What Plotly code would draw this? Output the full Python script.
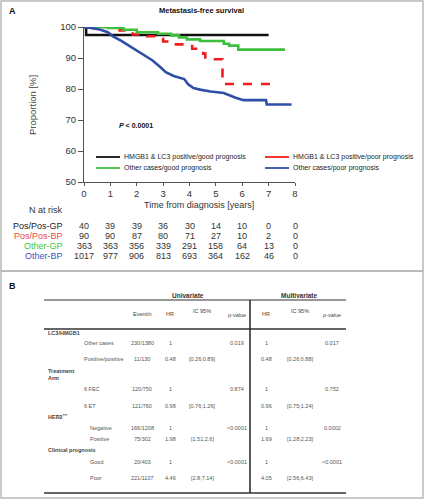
import plotly.graph_objects as go

# ---------------- Data ----------------
group_names = [
    "HMGB1 & LC3 positive/good prognosis",
    "HMGB1 & LC3 positive/poor prognosis",
    "Other cases/good prognosis",
    "Other cases/poor prognosis",
]
group_colors = ["#111111", "#f21d1d", "#3dbf3d", "#2f4ea8"]

black_t = [0, 0.08, 7.0]
black_s = [100, 97.4, 97.4]

red_t = [0, 1.35, 1.85, 2.4, 3.0, 3.22, 4.1, 4.52, 4.6, 5.25, 7.3]
red_s = [100, 98.9, 97.6, 97.0, 95.3, 94.4, 93.0, 91.4, 89.6, 81.6, 81.6]

green_t = [0, 0.9, 1.5, 2.0, 2.8, 3.3, 3.6, 3.9, 4.4, 5.3, 5.5, 5.85, 7.62]
green_s = [100, 99.7, 99.1, 98.3, 97.8, 97.3, 96.6, 96.0, 95.5, 94.6, 94.0, 92.7, 92.7]

blue_t = [0, 0.3, 0.6, 0.9, 1.1, 1.4, 1.7, 2.0, 2.3, 2.6, 2.9, 3.1, 3.4, 3.8, 3.95,
          4.15, 4.4, 4.8, 5.3, 5.55, 5.75, 6.05, 6.9, 6.93, 7.87]
blue_s = [100, 99.7, 99.2, 98.3, 97.0, 95.6, 94.0, 92.6, 91.0, 89.2, 87.0, 85.4, 84.2, 83.2, 81.5,
          80.3, 79.8, 79.2, 78.7, 77.8, 77.2, 76.4, 76.4, 75.0, 75.0]

risk_times = [0, 1, 2, 3, 4, 5, 6, 7, 8]
risk_labels = ["Pos/Pos-GP", "Pos/Pos-BP", "Other-GP", "Other-BP"]
risk_label_colors = ["#222222", "#f04848", "#3ec83e", "#3f52c0"]
risk_pos_gp = [40, 39, 39, 36, 30, 14, 10, 0, 0]
risk_pos_bp = [90, 90, 87, 80, 71, 27, 10, 2, 0]
risk_other_gp = [363, 363, 356, 339, 291, 158, 64, 13, 0]
risk_other_bp = [1017, 977, 906, 813, 693, 364, 162, 46, 0]

# Table (panel B)
tbl_groups = ["LC3/HMGB1", "Treatment<br>Arm", "HER2<sup>***</sup>", "Clinical prognosis"]
tbl_rows = ["Other cases", "Positive/positive", "6 FEC", "6 ET", "Negative", "Positive", "Good", "Poor"]
tbl_events = ["230/1380", "11/130", "120/750", "121/760", "166/1208", "75/302", "20/403", "221/1107"]
tbl_uni_hr = ["1", "0.48", "1", "0.98", "1", "1.98", "1", "4.46"]
tbl_uni_ci = ["", "[0.26;0.89]", "", "[0.76;1.26]", "", "[1.51;2.6]", "", "[2.8;7.14]"]
tbl_uni_p = ["0.019", "", "0.874", "", "<0.0001", "", "<0.0001", ""]
tbl_multi_hr = ["1", "0.48", "1", "0.96", "1", "1.69", "1", "4.05"]
tbl_multi_ci = ["", "[0.26;0.88]", "", "[0.75;1.24]", "", "[1.28;2.23]", "", "[2.56;6.43]"]
tbl_multi_p = ["0.017", "", "0.752", "", "0.0002", "", "<0.0001", ""]
tbl_headers = ["Event/n", "HR", "IC 95%", "p-value", "HR", "IC 95%", "p-value"]

# ---------------- Layout geometry (pixels) ----------------
W, H = 425, 500
L, R, T, B = 84, 295, 27, 182
FONT = "Liberation Sans, Arial, sans-serif"


def px_x(px):
    return (px - L) / (R - L)


def px_y(py):
    return (B - py) / (B - T)


fig = go.Figure()

series = [(black_t, black_s, "hv", "solid"),
          (red_t, red_s, "hv", "dash"),
          (green_t, green_s, "hv", "solid"),
          (blue_t, blue_s, "linear", "solid")]
for (t, s, shape, dash), name, col in zip(series, group_names, group_colors):
    fig.add_trace(go.Scatter(x=t, y=s, mode="lines", name=name, showlegend=False,
                             hoverinfo="skip",
                             line=dict(color=col, width=2.6, shape=shape, dash=dash)))

annotations = []
shapes = []

# Panel borders
shapes.append(dict(type="rect", xref="paper", yref="paper", x0=px_x(1), x1=px_x(423),
                   y0=px_y(271), y1=px_y(1), line=dict(color="#b8b8b8", width=1.5)))
shapes.append(dict(type="rect", xref="paper", yref="paper", x0=px_x(1), x1=px_x(423),
                   y0=px_y(498), y1=px_y(271), line=dict(color="#b8b8b8", width=1.5)))

# Panel A texts
annotations.append(dict(text="<b>A</b>", x=px_x(7), y=px_y(11), xref="paper", yref="paper",
                        xanchor="left", yanchor="middle", showarrow=False,
                        font=dict(size=9, color="#111", family=FONT)))
annotations.append(dict(text="<b>Metastasis-free survival</b>", x=px_x(201), y=px_y(11),
                        xref="paper", yref="paper", xanchor="center", yanchor="middle",
                        showarrow=False, font=dict(size=7.5, color="#111", family=FONT)))
annotations.append(dict(text="Proportion [%]", x=px_x(33), y=px_y(105), xref="paper", yref="paper",
                        textangle=-90, xanchor="center", yanchor="middle", showarrow=False,
                        font=dict(size=9.5, color="#444", family=FONT)))
annotations.append(dict(text="Time from diagnosis [years]", x=px_x(199), y=px_y(205),
                        xref="paper", yref="paper", xanchor="center", yanchor="middle",
                        showarrow=False, font=dict(size=9, color="#333", family=FONT)))
annotations.append(dict(text="<b><i>P</i> < 0.0001</b>", x=px_x(117), y=px_y(125),
                        xref="paper", yref="paper", xanchor="left", yanchor="middle",
                        showarrow=False, font=dict(size=7, color="#111", family=FONT)))

# Manual legend
leg_pos = [(96, 157), (265, 157), (96, 168), (265, 168)]
for (lx, ly), name, col in zip(leg_pos, group_names, group_colors):
    shapes.append(dict(type="line", xref="paper", yref="paper", x0=px_x(lx), x1=px_x(lx + 24),
                       y0=px_y(ly), y1=px_y(ly), line=dict(color=col, width=1.8)))
    annotations.append(dict(text=name, x=px_x(lx + 26), y=px_y(ly), xref="paper", yref="paper",
                            xanchor="left", yanchor="middle", showarrow=False,
                            font=dict(size=7.0, color="#222", family=FONT)))

# N at risk
annotations.append(dict(text="N at risk", x=px_x(27), y=px_y(210), xref="paper", yref="paper",
                        xanchor="left", yanchor="middle", showarrow=False,
                        font=dict(size=9, color="#333", family=FONT)))
risk_rows = [risk_pos_gp, risk_pos_bp, risk_other_gp, risk_other_bp]
risk_y = [226, 236, 246, 256]
for lab, col, vals, ry in zip(risk_labels, risk_label_colors, risk_rows, risk_y):
    annotations.append(dict(text=lab, x=px_x(65), y=px_y(ry), xref="paper", yref="paper",
                            xanchor="right", yanchor="middle", showarrow=False,
                            font=dict(size=9, color=col, family=FONT)))
    for t, v in zip(risk_times, vals):
        annotations.append(dict(text=str(v), x=t, y=px_y(ry), xref="x", yref="paper",
                                xanchor="center", yanchor="middle", showarrow=False,
                                font=dict(size=9, color="#333", family=FONT)))

# ---------------- Panel B table ----------------
annotations.append(dict(text="<b>B</b>", x=px_x(7), y=px_y(286), xref="paper", yref="paper",
                        xanchor="left", yanchor="middle", showarrow=False,
                        font=dict(size=9, color="#111", family=FONT)))
for txt, cx in [("Univariate", 188), ("Multivariate", 299)]:
    annotations.append(dict(text="<b>" + txt + "</b>", x=px_x(cx), y=px_y(295), xref="paper",
                            yref="paper", xanchor="center", yanchor="middle", showarrow=False,
                            font=dict(size=6.5, color="#333", family=FONT)))

tl, tr = 44, 346
for ly, wdt in [(300, 1.2), (329, 1.5), (493, 1.5)]:
    shapes.append(dict(type="line", xref="paper", yref="paper", x0=px_x(tl), x1=px_x(tr),
                       y0=px_y(ly), y1=px_y(ly), line=dict(color="#333", width=wdt)))
shapes.append(dict(type="line", xref="paper", yref="paper", x0=px_x(250), x1=px_x(250),
                   y0=px_y(300), y1=px_y(493), line=dict(color="#222", width=1.5)))

col_x = [142, 170, 202, 237, 266, 300, 332]
head_y = [314, 314, 311, 315, 314, 311, 315]
TF = 5.5
TC = "#555"
for txt, cx, hy in zip(tbl_headers, col_x, head_y):
    annotations.append(dict(text=txt, x=px_x(cx), y=px_y(hy), xref="paper", yref="paper",
                            xanchor="center", yanchor="middle", showarrow=False,
                            font=dict(size=TF, color="#444", family=FONT)))

grp_y = [333, 374.5, 417, 450]
for g, gy in zip(tbl_groups, grp_y):
    annotations.append(dict(text="<b>" + g + "</b>", x=px_x(46), y=px_y(gy), xref="paper",
                            yref="paper", xanchor="left", yanchor="middle", align="left",
                            showarrow=False, font=dict(size=TF, color="#444", family=FONT)))

row_y = [343, 359, 389, 406, 428, 439, 462, 478]
row_lx = [82, 82, 82, 82, 88, 88, 88, 88]
cols = [tbl_events, tbl_uni_hr, tbl_uni_ci, tbl_uni_p, tbl_multi_hr, tbl_multi_ci, tbl_multi_p]
for i, (lab, ry, lx) in enumerate(zip(tbl_rows, row_y, row_lx)):
    annotations.append(dict(text=lab, x=px_x(lx), y=px_y(ry), xref="paper", yref="paper",
                            xanchor="left", yanchor="middle", showarrow=False,
                            font=dict(size=TF, color=TC, family=FONT)))
    for colvals, cx in zip(cols, col_x):
        if colvals[i]:
            annotations.append(dict(text=colvals[i], x=px_x(cx), y=px_y(ry), xref="paper",
                                    yref="paper", xanchor="center", yanchor="middle",
                                    showarrow=False, font=dict(size=TF, color=TC, family=FONT)))

fig.update_layout(
    width=W, height=H,
    margin=dict(l=L, r=W - R, t=T, b=H - B, pad=0),
    paper_bgcolor="white", plot_bgcolor="white",
    font=dict(family=FONT, color="#333"),
    showlegend=False, hovermode=False,
    annotations=annotations, shapes=shapes,
    xaxis=dict(range=[0, 8], tickvals=risk_times, showline=True, linecolor="#555", linewidth=1,
               ticks="outside", ticklen=3, tickcolor="#555", showgrid=False, zeroline=False,
               tickfont=dict(size=9.5, color="#333")),
    yaxis=dict(range=[50, 100], tickvals=[50, 60, 70, 80, 90, 100], showline=True,
               linecolor="#555", linewidth=1, ticks="outside", ticklen=5, tickcolor="#555",
               showgrid=False, zeroline=False, tickfont=dict(size=9.5, color="#333")),
)

fig.write_html("out.html", config={"displayModeBar": False},
               post_script="document.body.style.margin='0';document.body.style.overflow='hidden';")
